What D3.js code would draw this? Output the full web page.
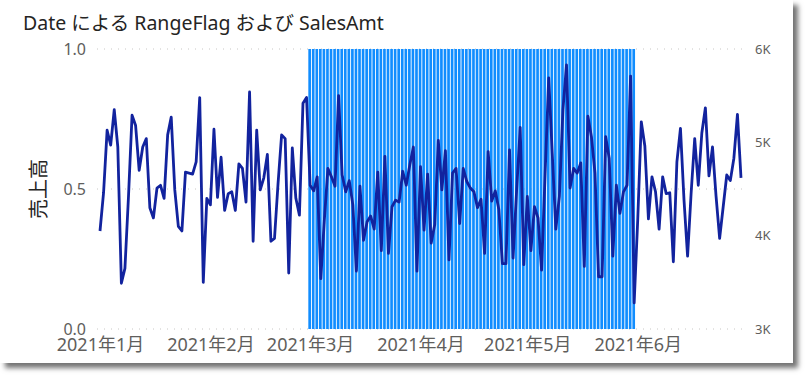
<!DOCTYPE html>
<html>
<head>
<meta charset="utf-8">
<script src="https://cdn.jsdelivr.net/npm/d3@7"></script>
<style>
  body { margin: 0; background: #fff; }
  #card {
    position: absolute; left: 0; top: 0; width: 793px; height: 363px;
    background: #fff; box-shadow: 5px 5px 5px rgba(0,0,0,0.55);
  }
  svg { position: absolute; left: 0; top: 0; }
  text { font-family: "Segoe UI", "Noto Sans", "Noto Sans CJK JP", sans-serif; }
</style>
</head>
<body>
<div id="card"></div>
<svg width="808" height="380"></svg>
<script>
// data
const TITLE = 'Date による RangeFlag および SalesAmt'
const Y_TITLE = '売上高'
const START_DATE = '2021-01-01'
const END_DATE = '2021-06-30'
const FLAG_START = '2021-03-01'
const FLAG_END = '2021-05-31'
const salesAmt = [
  4050, 4460, 5130, 4970, 5350, 4950, 3490, 3650, 4420, 5290,
  5180, 4700, 4950, 5040, 4300, 4190, 4510, 4540, 4400, 5080,
  5270, 4490, 4100, 4050, 4680, 4670, 4660, 4790, 5480, 3500,
  4400, 4330, 5140, 4410, 4840, 4270, 4450, 4470, 4270, 4770,
  4720, 4360, 5540, 3940, 5130, 4490, 4620, 4870, 3940, 3970,
  4560, 5080, 5040, 3600, 4940, 4400, 4220, 5420, 5480, 4540,
  4480, 4630, 3540, 4170, 4720, 4630, 4530, 5500, 4650, 4470,
  4590, 4330, 3620, 4530, 3950, 4150, 4210, 4070, 4680, 3840,
  4850, 3810, 4310, 4380, 4360, 4690, 4540, 4760, 4950, 3620,
  4740, 4060, 4660, 3920, 4120, 5020, 4490, 4910, 3740, 4670,
  4720, 4130, 4720, 4580, 4510, 4470, 4300, 4390, 3810, 4900,
  4370, 4480, 4280, 3700, 3700, 4920, 3760, 4490, 5160, 3690,
  4420, 3840, 4310, 4190, 3630, 4670, 5690, 4880, 4070, 4420,
  5350, 5830, 4510, 4720, 4670, 4780, 3670, 5280, 5060, 4670,
  3560, 3560, 5060, 4830, 3780, 4540, 4240, 4470, 4540, 5710,
  3280, 4170, 5220, 4960, 4180, 4630, 4470, 4070, 4630, 4450,
  4460, 3720, 4790, 5150, 4380, 3780, 4460, 5040, 4540, 5100,
  5370, 4640, 4950, 4420, 3970, 4310, 4650, 4590, 4830, 5300,
  4620
]
const monthTicks = ['2021-01-01', '2021-02-01', '2021-03-01', '2021-04-01', '2021-05-01', '2021-06-01']
const monthLabels = ['2021年1月', '2021年2月', '2021年3月', '2021年4月', '2021年5月', '2021年6月']
const flagTicks = [0, 0.5, 1]
const salesTicks = [3000, 4000, 5000, 6000]

const parse = d3.timeParse('%Y-%m-%d')
const dates = d3.timeDay.range(parse(START_DATE), d3.timeDay.offset(parse(END_DATE), 1))
const dataset = dates.map((d, i) => ({
  date: d,
  flag: (d >= parse(FLAG_START) && d <= parse(FLAG_END)) ? 1 : 0,
  sales: salesAmt[i]
}))

const $svg = d3.select('svg')

const PLOT = { left: 97, right: 743, top: 49, bottom: 329 }

const xScale = d3.scaleTime()
  .domain([parse(START_DATE), parse(END_DATE)])
  .range([100, 741])
const yFlag = d3.scaleLinear().domain([0, 1]).range([PLOT.bottom, PLOT.top])
const ySales = d3.scaleLinear().domain([3000, 6000]).range([PLOT.bottom, PLOT.top])
const step = xScale(dates[1]) - xScale(dates[0])

// title
$svg.append('text')
  .attr('x', 23).attr('y', 30)
  .attr('font-size', 19.5).attr('fill', '#252423')
  .text(TITLE)

// gridlines
$svg.append('g').selectAll('line')
  .data(flagTicks)
  .join('line')
    .attr('x1', PLOT.left).attr('x2', PLOT.right)
    .attr('y1', d => yFlag(d)).attr('y2', d => yFlag(d))
    .attr('stroke', '#c8c6c4')
    .attr('stroke-width', 1)
    .attr('stroke-dasharray', '1,6')

// left axis
const yAxisL = $svg.append('g')
  .attr('transform', `translate(${PLOT.left - 2},0)`)
  .call(d3.axisLeft(yFlag).tickValues(flagTicks).tickFormat(d3.format('.1f')).tickSize(0).tickPadding(9))
yAxisL.select('.domain').remove()
yAxisL.selectAll('text')
  .attr('font-size', 16).attr('fill', '#605e5c')

// right axis
const yAxisR = $svg.append('g')
  .attr('transform', `translate(${PLOT.right},0)`)
  .call(d3.axisRight(ySales).tickValues(salesTicks).tickFormat(d => d / 1000 + 'K').tickSize(0).tickPadding(12))
yAxisR.select('.domain').remove()
yAxisR.selectAll('text')
  .attr('font-size', 13).attr('fill', '#605e5c')

// y title
$svg.append('text')
  .attr('transform', `translate(46, ${(PLOT.top + PLOT.bottom) / 2}) rotate(-90)`)
  .attr('text-anchor', 'middle')
  .attr('font-size', 20).attr('fill', '#252423')
  .text(Y_TITLE)

// x axis
const xAxis = $svg.append('g')
  .attr('transform', `translate(0,${PLOT.bottom})`)
  .call(d3.axisBottom(xScale)
    .tickValues(monthTicks.map(parse))
    .tickFormat((d, i) => monthLabels[i])
    .tickSize(0).tickPadding(9))
xAxis.select('.domain').remove()
xAxis.selectAll('text')
  .attr('font-size', 18).attr('fill', '#605e5c')

// bars
$svg.append('g').selectAll('rect')
  .data(dataset.filter(d => d.flag > 0))
  .join('rect')
    .attr('x', d => xScale(d.date) - step / 2)
    .attr('width', step - 0.9)
    .attr('y', d => yFlag(d.flag))
    .attr('height', d => yFlag(0) - yFlag(d.flag))
    .attr('fill', '#118dff')

// line
const lineGen = d3.line()
  .x(d => xScale(d.date))
  .y(d => ySales(d.sales))
$svg.append('path')
  .datum(dataset)
  .attr('d', lineGen)
  .attr('fill', 'none')
  .attr('stroke', '#12239e')
  .attr('stroke-width', 2.8)
  .attr('stroke-linejoin', 'round')
</script>
</body>
</html>
